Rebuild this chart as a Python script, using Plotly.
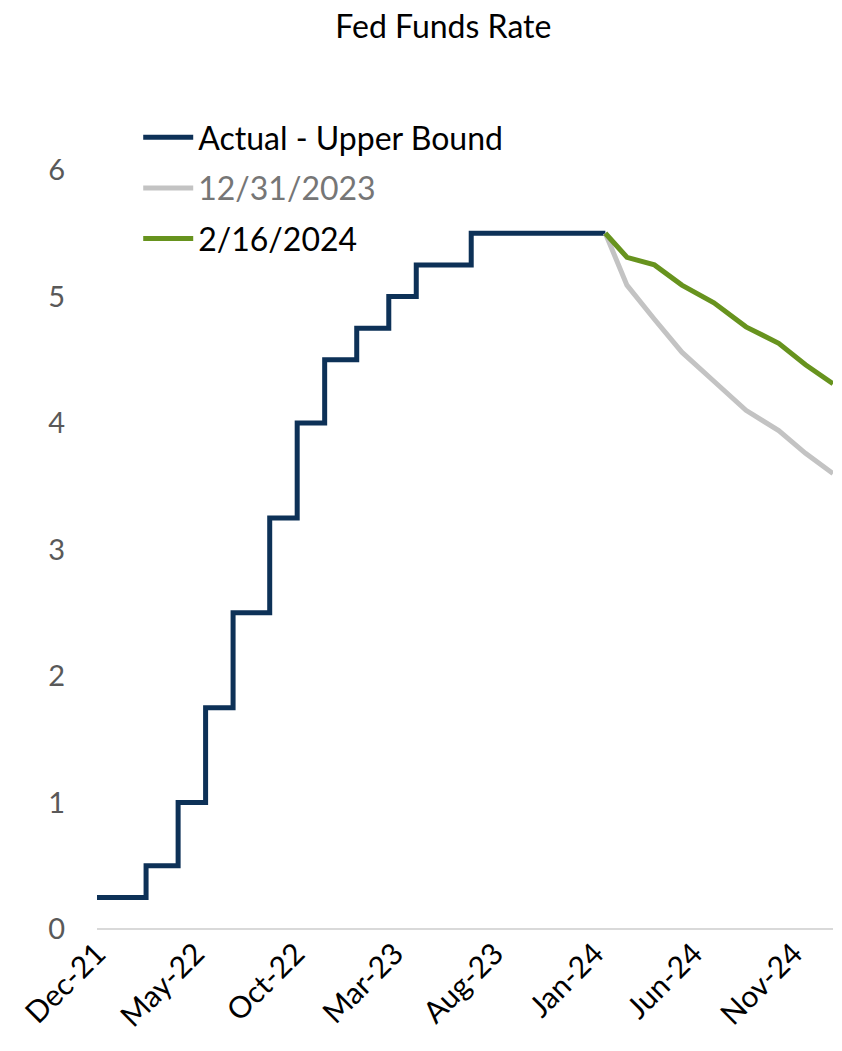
import plotly.graph_objects as go

# Actual fed funds upper bound (step changes)
actual_dates = ["2021-12-31", "2022-03-16", "2022-05-04", "2022-06-15", "2022-07-27",
                "2022-09-21", "2022-11-02", "2022-12-14", "2023-02-01", "2023-03-22",
                "2023-05-03", "2023-07-26", "2024-02-16"]
actual_values = [0.25, 0.5, 1.0, 1.75, 2.5, 3.25, 4.0, 4.5, 4.75, 5.0, 5.25, 5.5, 5.5]

# Market-implied paths (FOMC meeting dates)
forecast_dates = ["2024-02-16", "2024-03-20", "2024-05-01", "2024-06-12", "2024-07-31",
                  "2024-09-18", "2024-11-07", "2024-12-18", "2025-01-29"]
path_dec31 = [5.5, 5.09, 4.82, 4.56, 4.33, 4.10, 3.94, 3.76, 3.60]
path_feb16 = [5.5, 5.31, 5.25, 5.09, 4.95, 4.76, 4.63, 4.46, 4.31]

tick_dates = ["2021-12-31", "2022-05-31", "2022-10-31", "2023-03-31", "2023-08-31",
              "2024-01-31", "2024-06-30", "2024-11-30"]
tick_labels = ["Dec-21", "May-22", "Oct-22", "Mar-23", "Aug-23", "Jan-24", "Jun-24", "Nov-24"]

FONT = "Lato"

fig = go.Figure()
fig.add_trace(go.Scatter(x=actual_dates, y=actual_values, mode="lines", line_shape="hv",
                         name="Actual - Upper Bound", legendgroup="a",
                         line=dict(color="#0d3157", width=5)))
fig.add_trace(go.Scatter(x=forecast_dates, y=path_dec31, mode="lines",
                         name="<span style='color:#767676'>12/31/2023</span>", legendgroup="b",
                         line=dict(color="#c3c3c3", width=5)))
fig.add_trace(go.Scatter(x=forecast_dates, y=path_feb16, mode="lines",
                         name="2/16/2024", legendgroup="c",
                         line=dict(color="#67931e", width=5)))

fig.update_layout(
    width=834, height=1043,
    margin=dict(l=89, r=9, t=162, b=122, autoexpand=False),
    paper_bgcolor="white", plot_bgcolor="white",
    font=dict(family=FONT, color="#000000"),
    title=dict(text="Fed Funds Rate", x=0.522, xanchor="center", y=0.982, yref="container",
               yanchor="middle",
               font=dict(size=32, family=FONT, color="#000000")),
    showlegend=True,
    legend=dict(x=0.056, y=1.079, xanchor="left", yanchor="top",
                font=dict(size=32, family=FONT, color="#000000"),
                bgcolor="rgba(0,0,0,0)", tracegroupgap=6, itemwidth=50,
                traceorder="grouped"),
    xaxis=dict(range=["2021-12-31", "2025-01-29"], tickvals=tick_dates, ticktext=tick_labels,
               tickangle=-45, showgrid=False, zeroline=False, showline=False, automargin=False,
               ticks="", tickfont=dict(size=30, family=FONT, color="#000000")),
    yaxis=dict(range=[0, 6], tickvals=[0, 1, 2, 3, 4, 5, 6], showgrid=False, automargin=False,
               zeroline=True, zerolinecolor="#d9d9d9", zerolinewidth=2, showline=False,
               ticks="", ticklabelstandoff=31,
               tickfont=dict(size=29, family=FONT, color="#595959")),
)

fig.write_html("out.html")
